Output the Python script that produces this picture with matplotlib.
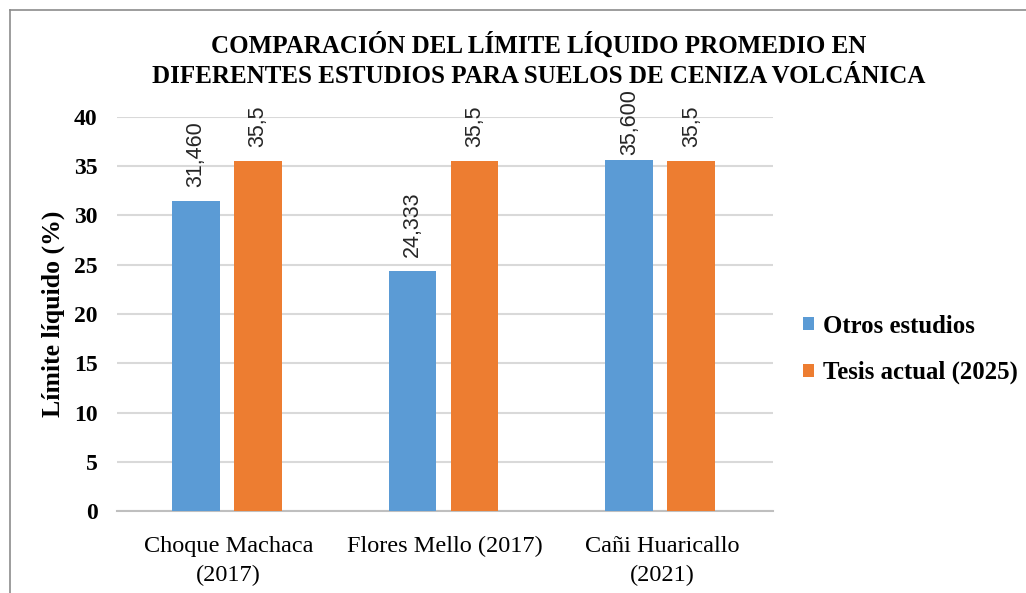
import matplotlib.pyplot as plt
import numpy as np
from matplotlib.lines import Line2D

CATEGORIES = ["Choque Machaca\n(2017)", "Flores Mello (2017)", "Cañi Huaricallo\n(2021)"]
OTROS = [31.460, 24.333, 35.600]
TESIS = [35.5, 35.5, 35.5]
OTROS_LABELS = ["31,460", "24,333", "35,600"]
TESIS_LABELS = ["35,5", "35,5", "35,5"]
SERIES_NAMES = ["Otros estudios", "Tesis actual (2025)"]
TITLE = "COMPARACIÓN DEL LÍMITE LÍQUIDO PROMEDIO EN\nDIFERENTES ESTUDIOS PARA SUELOS DE CENIZA VOLCÁNICA"

BLUE = "#5B9BD5"
ORANGE = "#ED7D31"
SERIF = "Liberation Serif"
SANS = "Liberation Sans"


def main():
    fig = plt.figure(figsize=(10.26, 5.93), dpi=100)
    ax = fig.add_axes([0.114, 0.138, 0.639, 0.665])

    x = np.arange(len(CATEGORIES))
    width = 0.22
    off = 0.143
    b1 = ax.bar(x - off - 0.008, OTROS, width, color=BLUE, label=SERIES_NAMES[0], zorder=3)
    b2 = ax.bar(x + off - 0.008, TESIS, width, color=ORANGE, label=SERIES_NAMES[1], zorder=3)

    for bars, labels in ((b1, OTROS_LABELS), (b2, TESIS_LABELS)):
        for rect, lab in zip(bars, labels):
            h = rect.get_height()
            # like Excel: labels that would run past the chart top are nudged down
            gap = 10 if h < 35.55 else 3.5
            ax.annotate(lab, (rect.get_x() + rect.get_width() / 2, h),
                        xytext=(0, gap), textcoords="offset points",
                        rotation=90, ha="center", va="bottom",
                        fontsize=15.5, family=SANS, color="#262626",
                        annotation_clip=False)

    ax.set_ylim(0, 40)
    ax.set_xlim(-0.515, 2.51)
    ax.set_yticks(np.arange(0, 41, 5))
    ax.set_xticks(x)
    ax.set_xticklabels(CATEGORIES, family=SERIF, fontsize=17.5, linespacing=1.45)
    for t in ax.get_yticklabels():
        t.set_family(SERIF)
        t.set_fontweight("bold")
        t.set_fontsize(17)
    ax.tick_params(axis="both", length=0)
    ax.tick_params(axis="y", pad=14)
    ax.tick_params(axis="x", pad=18)

    ax.grid(axis="y", color="#d9d9d9", linewidth=1.5, zorder=0)
    ax.set_axisbelow(True)
    for side in ("top", "right", "left"):
        ax.spines[side].set_visible(False)
    ax.spines["bottom"].set_color("#bfbfbf")
    ax.spines["bottom"].set_linewidth(1.5)

    ax.set_ylabel("Límite líquido (%)", family=SERIF, fontweight="bold", fontsize=18.5, labelpad=6)

    fig.text(0.525, 0.946, TITLE, ha="center", va="top", family=SERIF,
             fontweight="bold", fontsize=18, linespacing=1.38)

    ax.legend(loc="center left", bbox_to_anchor=(1.013, 0.41), frameon=False,
              prop={"family": SERIF, "weight": "bold", "size": 17.8},
              handlelength=0.45, handleheight=0.45, handletextpad=0.35,
              labelspacing=0.95)

    fig.add_artist(Line2D([0.0097, 1.0], [0.983, 0.983], color="#8c8c8c", linewidth=1.2))
    fig.add_artist(Line2D([0.0097, 0.0097], [0.0, 0.983], color="#8c8c8c", linewidth=1.2))

    fig.savefig("out.png", dpi=100, facecolor="white")
    plt.close(fig)


if __name__ == "__main__":
    main()
